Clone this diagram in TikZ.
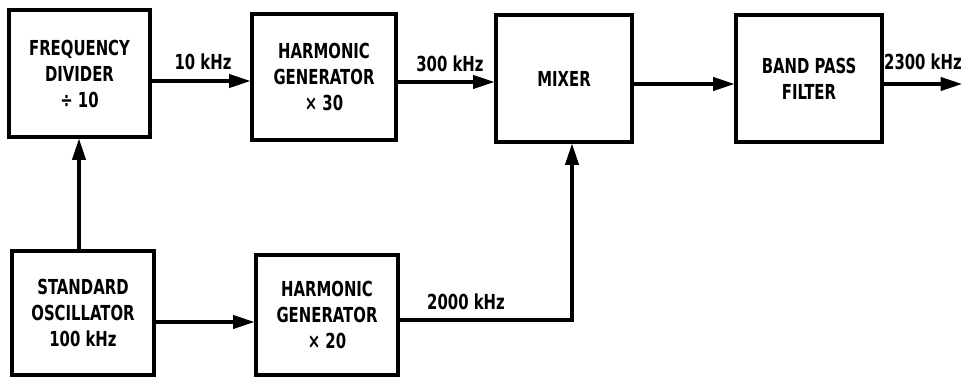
\documentclass[tikz,border=0pt]{standalone}
\usepackage{fontspec}
\setmainfont{DejaVu Sans Condensed}[FakeStretch=0.8]
\usetikzlibrary{arrows.meta}
\begin{document}
\begin{tikzpicture}[x=0.75pt,y=-0.75pt,
  blk/.style={draw,line width=2.3pt,rectangle,align=center,inner sep=0pt,
    font=\fontsize{15.5}{19.5}\selectfont\bfseries},
  arr/.style={line width=2.3pt,-{Triangle[length=16pt,width=10pt]}},
  lbl/.style={font=\fontsize{15.5}{16}\selectfont\bfseries,inner sep=0pt}]
\useasboundingbox (0,0) rectangle (964,378);
\node[blk,minimum width=141*0.75pt,minimum height=127*0.75pt] (fd) at (79.5,73.5) {FREQUENCY\\DIVIDER\\÷ 10};
\node[blk,minimum width=144*0.75pt,minimum height=126*0.75pt] (hg30) at (324,77) {HARMONIC\\GENERATOR\\× 30};
\node[blk,minimum width=136*0.75pt,minimum height=127*0.75pt] (mix) at (564,78.5) {MIXER};
\node[blk,minimum width=146*0.75pt,minimum height=127*0.75pt] (bpf) at (809,78.5) {BAND PASS\\FILTER};
\node[blk,minimum width=142*0.75pt,minimum height=124*0.75pt] (osc) at (83,313) {STANDARD\\OSCILLATOR\\100 kHz};
\node[blk,minimum width=142*0.75pt,minimum height=120*0.75pt] (hg20) at (327,315) {HARMONIC\\GENERATOR\\× 20};
\coordinate (out) at (962,84);
\coordinate (bend) at (572,320);
\draw[arr] (osc.north -| 79,0) -- (fd.south -| 79,0);
\draw[arr] (fd.east |- 0,81) -- (hg30.west |- 0,81);
\draw[arr] (hg30.east |- 0,82) -- (mix.west |- 0,82);
\draw[arr] (mix.east |- 0,84) -- (bpf.west |- 0,84);
\draw[arr] (bpf.east |- 0,84) -- (out);
\draw[arr] (osc.east |- 0,322) -- (hg20.west |- 0,322);
\draw[arr] (hg20.east |- bend) -- (bend) -- (mix.south -| bend);
\node[lbl] (l10) at (203,62) {10 kHz};
\node[lbl] (l300) at (450,64) {300 kHz};
\node[lbl,anchor=east] (l2300) at (962,62) {2300 kHz};
\node[lbl] (l2000) at (466,302) {2000 kHz};
\end{tikzpicture}
\end{document}
